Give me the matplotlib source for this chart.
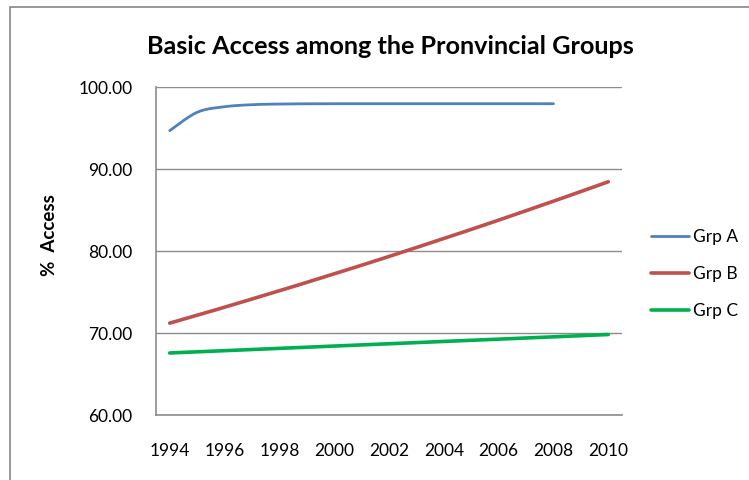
import numpy as np
import matplotlib
matplotlib.use("Agg")
import matplotlib.pyplot as plt
from matplotlib.patches import Rectangle

plt.rcParams['font.family'] = ['Lato', 'DejaVu Sans']

# ---- data -------------------------------------------------------------
years = list(range(1994, 2011))
tick_years = [1994, 1996, 1998, 2000, 2002, 2004, 2006, 2008, 2010]
y_ticks = [60, 70, 80, 90, 100]

grp_a = [94.71, 96.95, 97.63, 97.88, 97.96, 97.99, 98.00, 98.00,
         98.00, 98.00, 98.00, 98.00, 98.00, 98.00, 98.00]          # 1994-2008
grp_b = [71.24, 72.20, 73.18, 74.18, 75.18, 76.21, 77.25, 78.30, 79.37,
         80.46, 81.56, 82.67, 83.80, 84.95, 86.11, 87.29, 88.48]   # 1994-2010
grp_c = [67.60, 67.74, 67.88, 68.02, 68.16, 68.30, 68.44, 68.58, 68.72,
         68.86, 69.00, 69.14, 69.28, 69.42, 69.56, 69.70, 69.85]   # 1994-2010

series = [("Grp A", grp_a, "#4F81BD", 2.0),
          ("Grp B", grp_b, "#C0504D", 2.6),
          ("Grp C", grp_c, "#00B050", 2.6)]


def smooth(xs, ys, n=24):
    """Bezier smoothing through every point (Catmull-Rom style)."""
    pts = np.column_stack([xs, ys]).astype(float)
    P = np.vstack([pts[0], pts, pts[-1]])
    t = np.linspace(0, 1, n)[:, None]
    out = []
    for i in range(len(pts) - 1):
        p0, p1, p2, p3 = P[i], P[i + 1], P[i + 2], P[i + 3]
        c1 = p1 + (p2 - p0) / 6.0
        c2 = p2 - (p3 - p1) / 6.0
        seg = ((1 - t) ** 3) * p1 + 3 * ((1 - t) ** 2) * t * c1 \
            + 3 * (1 - t) * (t ** 2) * c2 + (t ** 3) * p2
        out.append(seg if i == 0 else seg[1:])
    seg = np.vstack(out)
    return seg[:, 0], seg[:, 1]


W, H = 749, 480
fig = plt.figure(figsize=(W / 100, H / 100), dpi=100)
fig.patch.set_facecolor("white")

# chart-area border
fig.patches.append(Rectangle((10 / W, -0.1), 1.2, 1 - 7 / H + 0.1,
                             transform=fig.transFigure, fill=False,
                             edgecolor="#868686", linewidth=1.2))

ax = fig.add_axes([156 / W, 1 - 415.3 / H, 466 / W, 328 / H])

grid_col = "#8C8C8C"
for name, vals, col, lw in series:
    idx = np.arange(len(vals))
    sx, sy = smooth(idx, vals)
    ax.plot(sx, sy, color=col, lw=lw, solid_capstyle="round", label=name,
            zorder=3)

ax.set_xlim(-0.5, len(years) - 0.5)
ax.set_ylim(60, 100)
ax.set_yticks(y_ticks)
ax.set_yticklabels([f"{v:.2f}" for v in y_ticks])
ax.set_xticks([years.index(y) for y in tick_years])
ax.set_xticklabels([str(y) for y in tick_years])
ax.tick_params(axis="both", length=0, labelsize=12.5, colors="black")
ax.tick_params(axis="y", pad=17)
ax.tick_params(axis="x", pad=20)

ax.grid(axis="y", color=grid_col, lw=1.0, zorder=0)
ax.set_axisbelow(True)
for s in ("top", "right"):
    ax.spines[s].set_visible(False)
for s in ("left", "bottom"):
    ax.spines[s].set_color(grid_col)
    ax.spines[s].set_linewidth(1.2)

ax.set_ylabel("%  Access", fontsize=13.5, fontweight="bold")
ax.yaxis.set_label_coords(-98 / 466, 0.55)

fig.text(390 / W, 1 - 46 / H, "Basic Access among the Pronvincial Groups",
         ha="center", va="center", fontsize=18.2, fontweight="bold")

leg = fig.legend(loc="upper left", bbox_to_anchor=(651 / W, 1 - 229 / H),
                 frameon=False, fontsize=12.5, handlelength=2.2,
                 handletextpad=0.2, labelspacing=1.2, borderpad=0,
                 borderaxespad=0)

fig.savefig("out.png", dpi=100)
